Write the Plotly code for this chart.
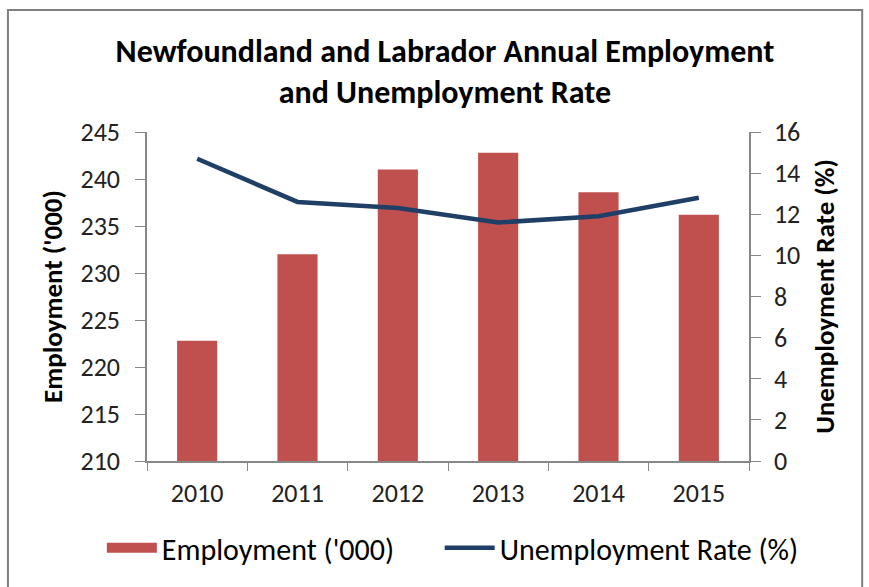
import plotly.graph_objects as go

years = ["2010", "2011", "2012", "2013", "2014", "2015"]
employment = [222.8, 232.0, 241.0, 242.8, 238.6, 236.2]
unemployment_rate = [14.7, 12.6, 12.3, 11.6, 11.9, 12.8]

FONT = "Carlito, Lato, sans-serif"
BAR_COLOR = "#C0504D"
LINE_COLOR = "#1F3F66"
PAD = "\u00a0" * 6

fig = go.Figure()
fig.add_trace(go.Bar(x=years, y=employment, name="Employment ('000)",
                     marker=dict(color=BAR_COLOR, line=dict(width=0)), yaxis="y",
                     showlegend=False))
# legend entry drawn as a thick swatch
fig.add_trace(go.Scatter(x=[None], y=[None], name="Employment ('000)" + PAD, mode="lines",
                         line=dict(color=BAR_COLOR, width=20), yaxis="y"))
fig.add_trace(go.Scatter(x=years, y=unemployment_rate, name="Unemployment Rate (%)",
                         mode="lines", line=dict(color=LINE_COLOR, width=4.5), yaxis="y2"))

fig.update_layout(
    width=869, height=587,
    margin=dict(l=147, r=120, t=132, b=126),
    paper_bgcolor="white", plot_bgcolor="white",
    font=dict(family=FONT, size=26, color="#222"),
    title=dict(text="<b>Newfoundland and Labrador Annual Employment<br>and Unemployment Rate</b>",
               x=0.512, xanchor="center", y=0.895, yanchor="middle",
               font=dict(size=32, color="black")),
    bargap=0.6,
    showlegend=True,
    legend=dict(orientation="h", x=-0.075, xanchor="left", y=-0.185, yanchor="top",
                font=dict(size=30, color="black"), itemwidth=50,
                tracegroupgap=0, bgcolor="rgba(0,0,0,0)"),
    xaxis=dict(type="category", showline=True, linecolor="#888", linewidth=1.5,
               ticks="outside", ticklen=8, tickcolor="#888", tickson="boundaries",
               ticklabelstandoff=8, tickfont=dict(size=26), showgrid=False),
    yaxis=dict(range=[210, 245], dtick=5, showline=True, linecolor="#888", linewidth=1.5,
               ticks="outside", ticklen=10, tickcolor="#888", showgrid=False, zeroline=False,
               ticklabelstandoff=10,
               title=dict(text="<b>Employment ('000)</b>", font=dict(size=27, color="black"), standoff=10),
               tickfont=dict(size=26)),
    yaxis2=dict(range=[0, 16], dtick=2, overlaying="y", side="right", showline=True,
                linecolor="#888", linewidth=1.5, ticks="outside", ticklen=10, tickcolor="#888",
                showgrid=False, zeroline=False, ticklabelstandoff=8,
                title=dict(text="<b>Unemployment Rate (%)</b>", font=dict(size=27, color="black"), standoff=16),
                tickfont=dict(size=26)),
    shapes=[dict(type="rect", xref="paper", yref="paper",
                 x0=-0.231, x1=1.188, y0=-0.6, y1=1.371,
                 line=dict(color="#7f7f7f", width=2))],
)
fig.write_html("out.html")
